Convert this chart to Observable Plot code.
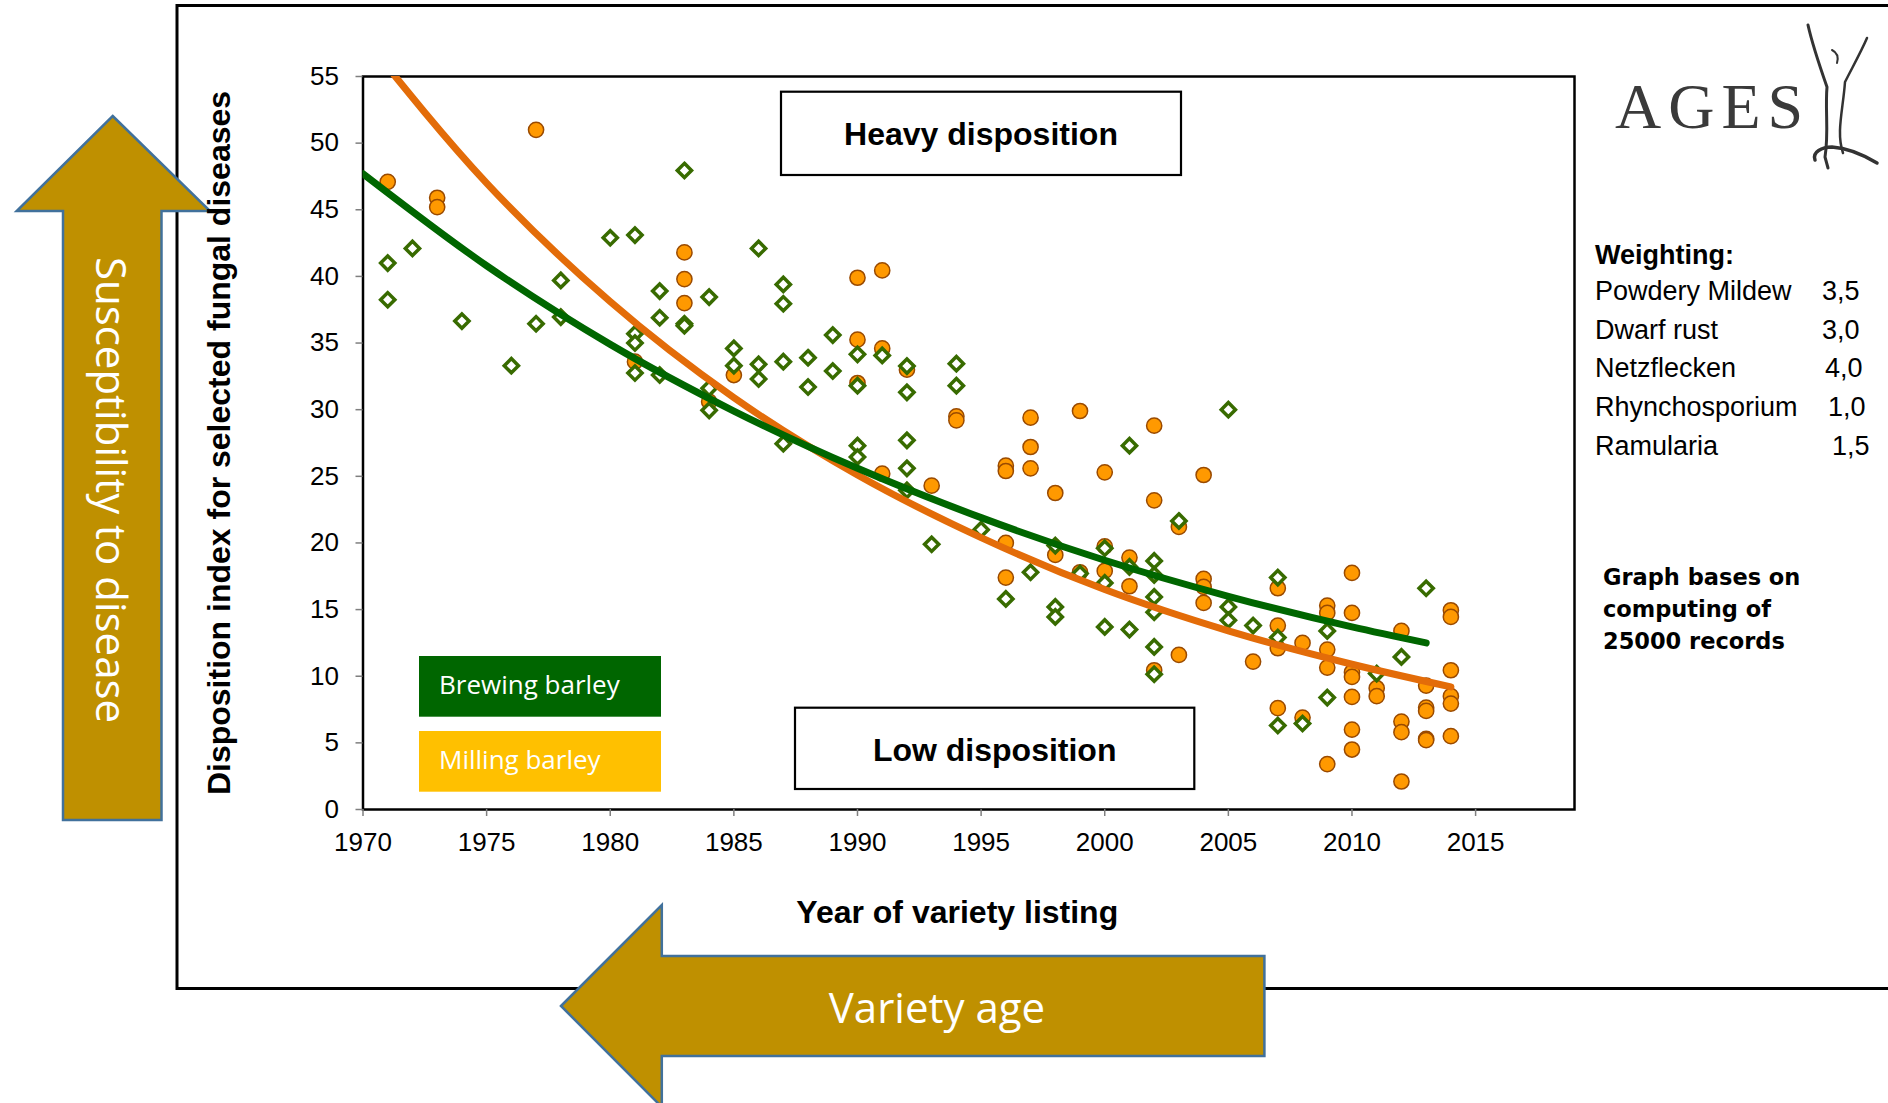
<!DOCTYPE html>
<html>
<head>
<meta charset="utf-8">
<script src="https://cdn.jsdelivr.net/npm/d3@7"></script>
<script src="https://cdn.jsdelivr.net/npm/@observablehq/plot@0.6"></script>
<style>
  html, body { margin: 0; padding: 0; background: #fff; }
  #wrap { position: relative; width: 1888px; height: 1103px; overflow: hidden; background: #fff; }
  #wrap > svg, #plot { position: absolute; left: 0; top: 0; }
  #plot svg { background: transparent !important; }
</style>
</head>
<body>
<div id="wrap">
  <svg id="under" width="1888" height="1103">
    <!-- outer frame -->
    <path d="M1895 5.5 H177 V988.5 H1895" fill="none" stroke="#000" stroke-width="3"/>
    <!-- up arrow -->
    <polygon points="112.7,116 210,211 161.5,211 161.5,820 63,820 63,211 16.7,211"
             fill="#BF9000" stroke="#41719C" stroke-width="2.5" stroke-linejoin="miter"/>
    <text x="0" y="0" transform="translate(112,490) rotate(90)" text-anchor="middle" dominant-baseline="central"
          font-family="Open Sans" font-size="42" fill="#fff">Susceptibility to disease</text>
    <!-- left arrow -->
    <polygon points="561,1006 661.8,905 661.8,956 1264.4,956 1264.4,1056 661.8,1056 661.8,1107"
             fill="#BF9000" stroke="#41719C" stroke-width="2.5"/>
    <text x="937" y="1022.7" text-anchor="middle" font-family="Open Sans" font-size="42" fill="#fff">Variety age</text>
  </svg>
  <div id="plot"></div>
  <svg id="over" width="1888" height="1103" style="pointer-events:none">
    <!-- annotation boxes -->
    <rect x="781" y="91.7" width="400" height="83.3" fill="#fff" stroke="#000" stroke-width="2.2"/>
    <text x="981" y="145" text-anchor="middle" font-family="Liberation Sans" font-weight="bold" font-size="32" fill="#000">Heavy disposition</text>
    <rect x="795" y="707.7" width="399.3" height="81.3" fill="#fff" stroke="#000" stroke-width="2.2"/>
    <text x="994.7" y="760.7" text-anchor="middle" font-family="Liberation Sans" font-weight="bold" font-size="32" fill="#000">Low disposition</text>
    <!-- legend -->
    <g id="legend"></g>
    <!-- logo -->
    <text x="1615" y="128" font-family="Liberation Serif" font-size="64" letter-spacing="7" fill="#3a3a3a">AGES</text>
    <g fill="none" stroke="#333" stroke-linecap="round" stroke-linejoin="round">
      <path d="M1808,25 C1812,43 1820,67 1827,87 C1825,110 1829,133 1825,157 L1828,168" stroke-width="3"/>
      <path d="M1867,38 C1861,52 1852,68 1845,82 C1843,110 1836,133 1843,153" stroke-width="2.5"/>
      <path d="M1832,50 C1836,52 1839,56 1837,63" stroke-width="2"/>
      <path d="M1815,160 C1812,152 1822,147 1832,147 C1848,148 1862,154 1877,163" stroke-width="3.5"/>
    </g>
    <g id="weighting"></g>
    <g id="note"></g>
  </svg>
</div>
<script>
// ---------------- data ----------------
// Brewing barley (green diamonds): year of listing, disposition index
const brewingYears = [
  1971, 1971, 1972, 1974, 1976, 1977, 1978, 1978, 1980,
  1981, 1981, 1981, 1981, 1982, 1982, 1982, 1983, 1983, 1983,
  1984, 1984, 1984, 1985, 1985, 1986, 1986, 1986,
  1987, 1987, 1987, 1987, 1988, 1988, 1989, 1989,
  1990, 1990, 1990, 1990, 1991, 1992, 1992, 1992, 1992, 1992,
  1993, 1994, 1994, 1995, 1996, 1997, 1998, 1998, 1998, 1999,
  2000, 2000, 2000, 2001, 2001, 2001,
  2002, 2002, 2002, 2002, 2002, 2002, 2003,
  2005, 2005, 2005, 2006, 2007, 2007, 2007, 2008, 2009, 2009,
  2011, 2012, 2013
];
const brewingValues = [
  41.0, 38.25, 42.1, 36.65, 33.3, 36.45, 39.7, 36.95, 42.9,
  43.1, 35.7, 35.0, 32.75, 38.9, 36.9, 32.6, 47.95, 36.45, 36.3,
  38.45, 31.6, 29.95, 34.6, 33.3, 42.1, 33.4, 32.3,
  39.4, 37.95, 33.6, 27.45, 33.9, 31.7, 35.6, 32.9,
  34.15, 31.8, 27.3, 26.45, 34.07, 33.27, 31.3, 27.7, 25.6, 23.95,
  19.9, 33.45, 31.8, 21.0, 15.8, 17.8, 19.8, 15.2, 14.45, 17.7,
  19.6, 17.0, 13.7, 27.3, 18.2, 13.5,
  18.65, 17.6, 15.95, 14.8, 12.2, 10.15, 21.65,
  30.0, 15.2, 14.2, 13.8, 17.4, 12.9, 6.3, 6.45, 13.4, 8.4,
  10.2, 11.45, 16.6
];

// Milling barley (orange circles)
const millingYears = [
  1971, 1973, 1973, 1977, 1981, 1983, 1983, 1983, 1984, 1985,
  1990, 1990, 1990, 1991, 1991, 1991, 1992, 1993, 1994, 1994,
  1996, 1996, 1996, 1996, 1997, 1997, 1997, 1998, 1998, 1999, 1999,
  2000, 2000, 2000, 2001, 2001, 2002, 2002, 2002, 2003, 2003,
  2004, 2004, 2004, 2004, 2006, 2007, 2007, 2007, 2007, 2008, 2008,
  2009, 2009, 2009, 2009, 2009,
  2010, 2010, 2010, 2010, 2010, 2010, 2010,
  2011, 2011, 2012, 2012, 2012, 2012,
  2013, 2013, 2013, 2013, 2013,
  2014, 2014, 2014, 2014, 2014, 2014
];
const millingValues = [
  47.1, 45.9, 45.2, 51.0, 33.6, 41.8, 39.8, 38.0, 30.6, 32.6,
  39.9, 35.25, 32.0, 40.45, 34.6, 25.2, 33.0, 24.3, 29.5, 29.2,
  25.8, 25.4, 20.0, 17.4, 29.4, 27.2, 25.6, 23.75, 19.1, 29.9, 17.8,
  25.3, 19.75, 17.9, 18.9, 16.75, 28.8, 23.2, 10.45, 21.2, 11.6,
  25.1, 17.3, 16.7, 15.5, 11.1, 16.6, 13.8, 12.1, 7.6, 12.5, 6.9,
  15.3, 14.75, 12.0, 10.65, 3.4,
  17.75, 14.75, 10.3, 9.95, 8.45, 6.0, 4.5,
  9.1, 8.5, 13.4, 6.6, 5.8, 2.1,
  9.3, 7.65, 7.4, 5.3, 5.2,
  14.95, 14.45, 10.45, 8.5, 7.95, 5.5
];

// Trend lines
const brewingTrendYears  = [1970, 1975, 1980, 1985, 1990, 1995, 2000, 2005, 2010, 2013];
const brewingTrendValues = [47.7, 40.8, 34.9, 29.9, 25.6, 21.9, 18.7, 16.0, 13.7, 12.5];
const millingTrendYears  = [1970, 1975, 1980, 1985, 1990, 1995, 2000, 2005, 2010, 2014];
const millingTrendValues = [58.0, 47.0, 38.1, 30.9, 25.1, 20.4, 16.5, 13.4, 10.9, 9.2];

// Axes
const xTicks = [1970, 1975, 1980, 1985, 1990, 1995, 2000, 2005, 2010, 2015];
const yTicks = [0, 5, 10, 15, 20, 25, 30, 35, 40, 45, 50, 55];
const xTitle = "Year of variety listing";
const yTitle = "Disposition index for selected fungal diseases";

// Legend and side notes
const seriesNames = ["Brewing barley", "Milling barley"];
const seriesBoxColors = ["#006600", "#FFC000"];
const weightingTitle = "Weighting:";
const weightingNames = ["Powdery Mildew", "Dwarf rust", "Netzflecken", "Rhynchosporium", "Ramularia"];
const weightingValues = ["3,5", "3,0", "4,0", "1,0", "1,5"];
const noteLines = ["Graph bases on", "computing of", "25000 records"];

// ---------------- build ----------------
const brewing = brewingYears.map((year, i) => ({year, value: brewingValues[i]}));
const milling = millingYears.map((year, i) => ({year, value: millingValues[i]}));
const brewingTrend = brewingTrendYears.map((year, i) => ({year, value: brewingTrendValues[i]}));
const millingTrend = millingTrendYears.map((year, i) => ({year, value: millingTrendValues[i]}));

const chart = Plot.plot({
  width: 1888,
  height: 1103,
  marginLeft: 362.5,
  marginRight: 314,
  marginTop: 76,
  marginBottom: 294,
  style: {fontFamily: "Liberation Sans", fontSize: "26px", color: "#000", background: "transparent", overflow: "visible"},
  x: {domain: [1970, 2019]},
  y: {domain: [0, 55]},
  marks: [
    Plot.frame({stroke: "#000", strokeWidth: 2.5}),
    Plot.axisX(xTicks, {tickSize: 7, tickPadding: 16, stroke: "#7f7f7f", strokeWidth: 1.5, tickFormat: d => String(d), label: null}),
    Plot.axisY(yTicks, {tickSize: 7, tickPadding: 17, stroke: "#7f7f7f", strokeWidth: 1.5, label: null}),
    Plot.dot(milling, {x: "year", y: "value", r: 7.6, fill: "#FF9900", stroke: "#9A4A00", strokeWidth: 1.5}),
    Plot.dot(brewing, {x: "year", y: "value", symbol: "diamond2", r: 6.4, fill: "#fff", stroke: "#386B00", strokeWidth: 3.5}),
    Plot.line(millingTrend, {x: "year", y: "value", curve: "monotone-x", stroke: "#E36C09", strokeWidth: 7, strokeLinecap: "round", clip: true}),
    Plot.line(brewingTrend, {x: "year", y: "value", curve: "monotone-x", stroke: "#006600", strokeWidth: 7, strokeLinecap: "round", clip: true}),
    Plot.text([xTitle], {text: d => d, frameAnchor: "bottom", textAnchor: "middle", lineAnchor: "middle", dx: -11.5, dy: 103, fontSize: 32, fontWeight: "bold", fill: "#000"}),
    Plot.text([yTitle], {text: d => d, frameAnchor: "left", textAnchor: "middle", lineAnchor: "middle", rotate: -90, dx: -143.5, fontSize: 32, fontWeight: "bold", fill: "#000"})
  ]
});
chart.style.background = "transparent";
document.getElementById("plot").appendChild(chart);

// legend boxes
const NS = "http://www.w3.org/2000/svg";
function el(parent, tag, attrs, text) {
  const e = document.createElementNS(NS, tag);
  for (const k in attrs) e.setAttribute(k, attrs[k]);
  if (text != null) e.textContent = text;
  parent.appendChild(e);
  return e;
}
const legend = document.getElementById("legend");
seriesNames.forEach((name, i) => {
  const top = 656 + i * 75;
  el(legend, "rect", {x: 419, y: top, width: 242, height: 60.7, fill: seriesBoxColors[i]});
  el(legend, "text", {x: 439, y: top + 37.5, "font-family": "Open Sans", "font-size": 26, fill: "#fff"}, name);
});

// weighting list
const wg = document.getElementById("weighting");
el(wg, "text", {x: 1595, y: 263.5, "font-family": "Liberation Sans", "font-weight": "bold", "font-size": 27, fill: "#000"}, weightingTitle);
const valueX = [1822, 1822, 1825, 1828, 1832];
weightingNames.forEach((name, i) => {
  const y = 300 + i * 38.7;
  el(wg, "text", {x: 1595, y, "font-family": "Liberation Sans", "font-size": 27, fill: "#000"}, name);
  el(wg, "text", {x: valueX[i], y, "font-family": "Liberation Sans", "font-size": 27, fill: "#000"}, weightingValues[i]);
});

// note
const note = document.getElementById("note");
noteLines.forEach((line, i) => {
  el(note, "text", {x: 1603, y: 585 + i * 32.2, "font-family": "DejaVu Sans", "font-weight": "bold", "font-size": 22.5, fill: "#000"}, line);
});
</script>
</body>
</html>
